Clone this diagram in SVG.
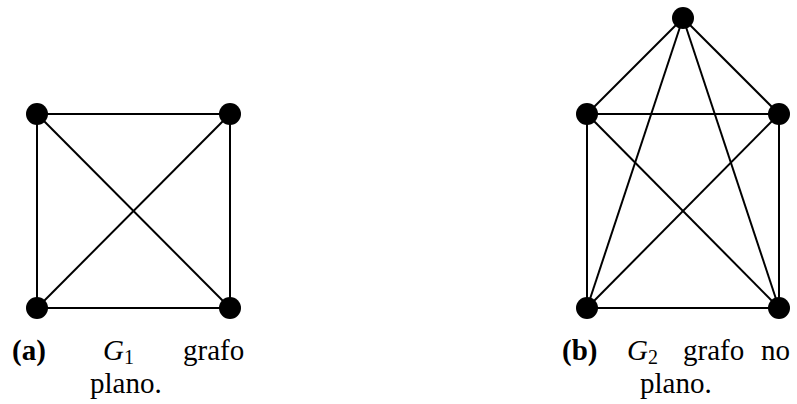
<svg xmlns="http://www.w3.org/2000/svg" width="797" height="404" viewBox="0 0 797 404">
<style>
.e{stroke:#000;stroke-width:2;fill:none}
.n{fill:#000}
.t{font-family:"Liberation Serif","DejaVu Serif",serif;font-size:29px;fill:#000}
.b{font-weight:bold}
.i{font-style:italic}
.s{font-size:20px}
</style>
<rect width="797" height="404" fill="#fff"/>
<g id="connectors">
<g id="g1-edges">
<line class="e" x1="37" y1="114" x2="230" y2="114"/>
<line class="e" x1="37" y1="308" x2="230" y2="308"/>
<line class="e" x1="37" y1="114" x2="37" y2="308"/>
<line class="e" x1="230" y1="114" x2="230" y2="308"/>
<line class="e" x1="37" y1="114" x2="230" y2="308"/>
<line class="e" x1="230" y1="114" x2="37" y2="308"/>
</g>
<g id="g2-edges">
<line class="e" x1="683" y1="18" x2="587" y2="114"/>
<line class="e" x1="683" y1="18" x2="779" y2="114"/>
<line class="e" x1="683" y1="18" x2="587" y2="308"/>
<line class="e" x1="683" y1="18" x2="779" y2="308"/>
<line class="e" x1="587" y1="114" x2="779" y2="114"/>
<line class="e" x1="587" y1="114" x2="587" y2="308"/>
<line class="e" x1="779" y1="114" x2="779" y2="308"/>
<line class="e" x1="587" y1="114" x2="779" y2="308"/>
<line class="e" x1="779" y1="114" x2="587" y2="308"/>
<line class="e" x1="587" y1="308" x2="779" y2="308"/>
</g>
</g>
<g id="a1"><circle class="n" cx="37" cy="114" r="11"/></g>
<g id="a2"><circle class="n" cx="230" cy="114" r="11"/></g>
<g id="a3"><circle class="n" cx="37" cy="308" r="11"/></g>
<g id="a4"><circle class="n" cx="230" cy="308" r="11"/></g>
<g id="b1"><circle class="n" cx="683" cy="18" r="11"/></g>
<g id="b2"><circle class="n" cx="587" cy="114" r="11"/></g>
<g id="b3"><circle class="n" cx="779" cy="114" r="11"/></g>
<g id="b4"><circle class="n" cx="587" cy="308" r="11"/></g>
<g id="b5"><circle class="n" cx="779" cy="308" r="11"/></g>
<g id="caption-a">
<text class="t" y="360"><tspan class="b" x="12">(a)</tspan><tspan class="i" x="103">G</tspan><tspan class="s" dy="4">1</tspan><tspan x="183" dy="-4">grafo</tspan></text>
<text class="t" x="90" y="393">plano.</text>
</g>
<g id="caption-b">
<text class="t" y="360"><tspan class="b" x="562">(b)</tspan><tspan class="i" x="627">G</tspan><tspan class="s" dy="4">2</tspan><tspan x="683" dy="-4">grafo</tspan><tspan x="761">no</tspan></text>
<text class="t" x="640" y="393">plano.</text>
</g>
</svg>
